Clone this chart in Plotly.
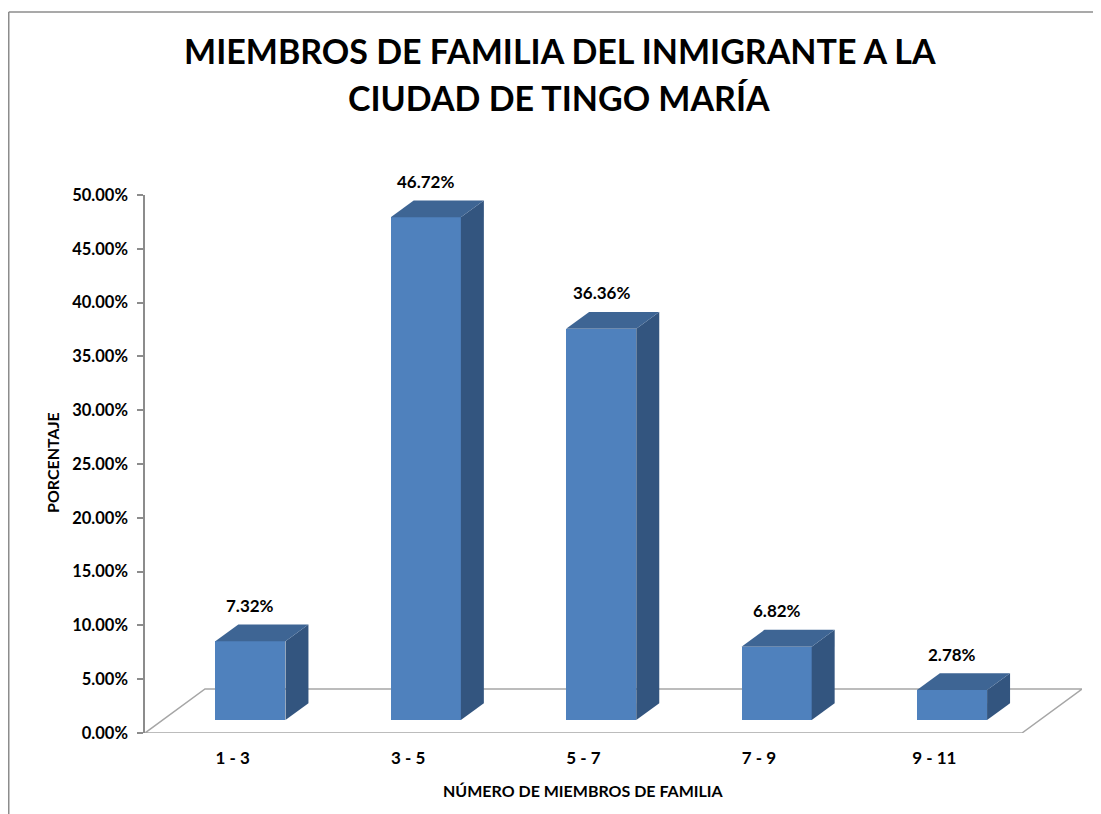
import plotly.graph_objects as go

categories = ["1 - 3", "3 - 5", "5 - 7", "7 - 9", "9 - 11"]
values_pct = [7.32, 46.72, 36.36, 6.82, 2.78]
y_ticks_pct = [0, 5, 10, 15, 20, 25, 30, 35, 40, 45, 50]

title_line1 = "MIEMBROS DE FAMILIA DEL INMIGRANTE A LA"
title_line2 = "CIUDAD DE TINGO MARÍA"
y_title = "PORCENTAJE"
x_title = "NÚMERO DE MIEMBROS DE FAMILIA"

# style / geometry constants (3-D projection)
FONT = "Lato"
OFF = 8  # page body offset
W, H = 1101 - OFF, 814 - OFF
ML, MR, MT, MB = 145 - OFF, 19, 195 - OFF, 81
DDX = 0.342          # floor depth offset in category units
DDY = 0.0409         # floor depth offset in value units
F0, F1 = 0.295, 0.678  # bar depth fractions (front / back)
BAR_W = 0.4
C_FRONT = "#4F81BD"
C_TOP = "#3E6594"
C_SIDE = "#33557F"
C_GRID = "#A6A6A6"
PW, PH = W - ML - MR, H - MT - MB


def px_x(px):
    """screen pixel x -> paper x"""
    return (px - OFF - ML) / PW


def px_y(py):
    """screen pixel y -> paper y"""
    return (H - MB - (py - OFF)) / PH


vals = [v / 100 for v in values_pct]
n = len(categories)
YMAX = 0.5

fig = go.Figure()

# floor parallelogram (below traces)
fx = [0, n, n + DDX, DDX]
fy = [0, 0, DDY, DDY]
path = "M " + " L ".join(f"{a},{b}" for a, b in zip(fx, fy)) + " Z"
fig.add_shape(type="path", path=path, xref="x", yref="y", layer="below",
              line=dict(color=C_GRID, width=1.5))

base = F0 * DDY
dxd = (F1 - F0) * DDX
dyd = (F1 - F0) * DDY
centers = [i + 0.5 + F0 * DDX for i in range(n)]

# front faces
fig.add_trace(go.Bar(
    x=centers, y=vals, base=[base] * n, width=BAR_W,
    marker=dict(color=C_FRONT, line=dict(width=0)),
    showlegend=False, hoverinfo="skip"))

for c, v in zip(centers, vals):
    xl, xr = c - BAR_W / 2, c + BAR_W / 2
    top = base + v
    fig.add_trace(go.Scatter(
        x=[xr, xr + dxd, xr + dxd, xr, xr],
        y=[base, base + dyd, top + dyd, top, base],
        fill="toself", fillcolor=C_SIDE, mode="lines",
        line=dict(width=0, color=C_SIDE), hoverinfo="skip", showlegend=False))
    fig.add_trace(go.Scatter(
        x=[xl, xr, xr + dxd, xl + dxd, xl],
        y=[top, top, top + dyd, top + dyd, top],
        fill="toself", fillcolor=C_TOP, mode="lines",
        line=dict(width=0, color=C_TOP), hoverinfo="skip", showlegend=False))
    fig.add_annotation(
        x=c, y=(v + 0.0455) / YMAX, text=f"<b>{v*100:.2f}%</b>", showarrow=False,
        xref="x", yref="paper", yanchor="middle",
        font=dict(family=FONT, size=17, color="black"))

fig.update_layout(
    width=W, height=H,
    margin=dict(l=ML, r=MR, t=MT, b=MB),
    paper_bgcolor="white", plot_bgcolor="white",
    bargap=0,
    xaxis=dict(range=[0, n + DDX], showgrid=False, zeroline=False, showline=False,
               tickmode="array", tickvals=[i + 0.5 for i in range(n)],
               ticktext=[f"<b>{c}</b>" for c in categories], ticks="",
               tickfont=dict(family=FONT, size=17, color="black"),
               ticklabelstandoff=13),
    yaxis=dict(range=[0, YMAX], showgrid=False, zeroline=False,
               showline=True, linecolor="#8C8C8C", linewidth=1.5,
               tickmode="array", tickvals=[t / 100 for t in y_ticks_pct],
               ticktext=[f"<b>{t:.2f}%</b>" for t in y_ticks_pct],
               ticks="outside", ticklen=6, tickcolor="#8C8C8C", tickwidth=1.5,
               tickfont=dict(family=FONT, size=16.5, color="black"),
               ticklabelstandoff=6),
)

# title lines
fig.add_annotation(x=px_x(560), y=px_y(50), xref="paper", yref="paper",
                   text=f"<b>{title_line1}</b>", showarrow=False,
                   xanchor="center", yanchor="middle",
                   font=dict(family=FONT, size=34, color="black"))
fig.add_annotation(x=px_x(559), y=px_y(98), xref="paper", yref="paper",
                   text=f"<b>{title_line2}</b>", showarrow=False,
                   xanchor="center", yanchor="middle",
                   font=dict(family=FONT, size=34, color="black"))

# axis titles
fig.add_annotation(x=px_x(52), y=px_y(463), xref="paper", yref="paper",
                   text=f"<b>{y_title}</b>", textangle=-90, showarrow=False,
                   xanchor="center", yanchor="middle",
                   font=dict(family=FONT, size=16, color="black"))
fig.add_annotation(x=px_x(583), y=px_y(790), xref="paper", yref="paper",
                   text=f"<b>{x_title}</b>", showarrow=False,
                   xanchor="center", yanchor="middle",
                   font=dict(family=FONT, size=16, color="black"))

# outer chart border (top and left edges visible)
bx, by = px_x(8.75), px_y(12)
fig.add_shape(type="line", xref="paper", yref="paper",
              x0=bx, y0=by, x1=px_x(1101), y1=by,
              line=dict(color="#8C8C8C", width=1.5))
fig.add_shape(type="line", xref="paper", yref="paper",
              x0=bx, y0=by, x1=bx, y1=px_y(814),
              line=dict(color="#8C8C8C", width=1.5))

fig.write_html("out.html")
